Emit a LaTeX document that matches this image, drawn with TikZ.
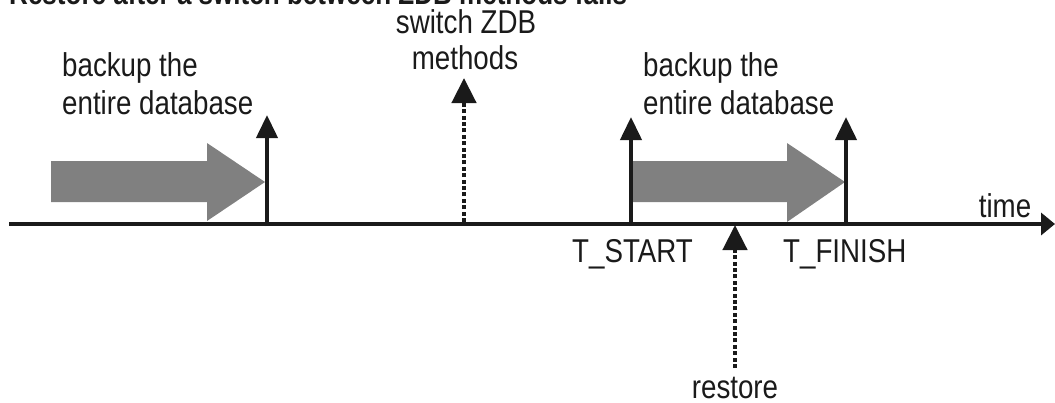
\documentclass[tikz,border=0pt]{standalone}
\usepackage{fontspec}
\setmainfont[FakeStretch=0.84]{Liberation Sans}
\usetikzlibrary{arrows.meta}
\definecolor{blockgray}{HTML}{808080}
\definecolor{ink}{HTML}{1A1A1A}
\tikzset{
  lbl/.style={inner sep=0pt, font=\fontsize{33}{38}\selectfont, text=ink},
  ttl/.style={inner sep=0pt, font=\fontsize{31}{36}\selectfont\bfseries, text=ink},
  axisline/.style={draw=ink, line width=4pt, -{Triangle[length=14pt,width=22pt]}},
  tickarrow/.style={draw=ink, line width=4pt, -{Triangle[length=23pt,width=21pt]}},
  dotarrow/.style={draw=ink, line width=4.5pt, dash pattern=on 4pt off 2.4pt, -{Triangle[length=25pt,width=24pt]}},
  blockarrow/.style={fill=blockgray, draw=none}
}
\begin{document}
\begin{tikzpicture}[x=1pt,y=-1pt]
\useasboundingbox (0,0) rectangle (1055,402);
% title (partly cut off at the top, as in the reference)
\node[ttl, anchor=base west] (title) at (9,4) {Restore after a switch between ZDB methods fails};
% gray block arrows
\path[blockarrow] (51,161) -- (207,161) -- (207,143) -- (265,182) -- (207,221) -- (207,202) -- (51,202) -- cycle;
\path[blockarrow] (631,161) -- (787,161) -- (787,143) -- (845,182) -- (787,222) -- (787,202) -- (631,202) -- cycle;
% time axis
\coordinate (t0) at (9,224);
\coordinate (t1) at (1055,224);
\draw[axisline] (t0) -- (t1);
\node[lbl, anchor=base] (time) at (1005,217) {time};
% solid marks
\coordinate (a0) at (267,226);
\coordinate (a1) at (267,115);
\draw[tickarrow] (a0) -- (a1);
\coordinate (b0) at (631,226);
\coordinate (b1) at (631,117);
\draw[tickarrow] (b0) -- (b1);
\coordinate (c0) at (846,226);
\coordinate (c1) at (846,117);
\draw[tickarrow] (c0) -- (c1);
% dotted marks
\coordinate (s0) at (464,222);
\coordinate (s1) at (464,78);
\draw[dotarrow] (s0) -- (s1);
\coordinate (r0) at (735,368);
\coordinate (r1) at (735,225);
\draw[dotarrow] (r0) -- (r1);
% labels
\node[lbl, anchor=base west] (bk1a) at (62,76) {backup the};
\node[lbl, anchor=base west] (bk1b) at (62,114) {entire database};
\node[lbl, anchor=base west] (bk2a) at (643,76) {backup the};
\node[lbl, anchor=base west] (bk2b) at (643,114) {entire database};
\node[lbl, anchor=base] (sw1) at (466,33) {switch ZDB};
\node[lbl, anchor=base] (sw2) at (465,69) {methods};
\node[lbl, anchor=base west] (ts) at (572,262) {T\_START};
\node[lbl, anchor=base west] (tf) at (783,262) {T\_FINISH};
\node[lbl, anchor=base] (rs) at (735,398) {restore};
\end{tikzpicture}
\end{document}
